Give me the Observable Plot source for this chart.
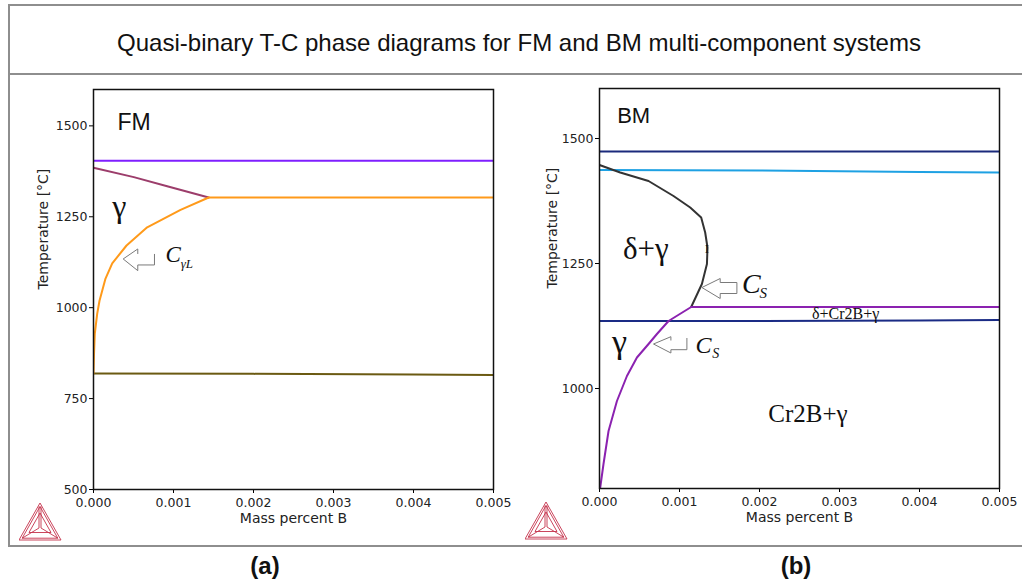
<!DOCTYPE html>
<html>
<head>
<meta charset="utf-8">
<script src="https://cdn.jsdelivr.net/npm/d3@7"></script>
<script src="https://cdn.jsdelivr.net/npm/@observablehq/plot@0.6"></script>
<style>
  html, body { margin: 0; padding: 0; background: #fff; }
  #page { position: relative; width: 1022px; height: 583px; overflow: hidden; background: #fff; font-family: "Liberation Sans", Arial, sans-serif; }
  .hline { position: absolute; height: 2px; background: #8e8e8e; }
  .vline { position: absolute; width: 2px; background: #8e8e8e; }
  .panel { position: absolute; top: 0; width: 511px; }
  .tag { position: absolute; font-family: "Liberation Sans", Arial, sans-serif; font-weight: bold; font-size: 24px; color: #111; transform: translate(-50%, -50%); }
  .logo { position: absolute; }
</style>
</head>
<body>
<div id="page">
  <div class="hline" style="left:9px; top:4px; width:1013px;"></div>
  <div class="hline" style="left:9px; top:73px; width:1013px;"></div>
  <div class="hline" style="left:9px; top:545px; width:1013px;"></div>
  <div class="vline" style="left:8px; top:4px; height:543px;"></div>
  <svg style="position:absolute; left:0; top:0;" width="1022" height="80">
    <text x="519" y="51" text-anchor="middle" font-family="Liberation Sans, Arial, sans-serif" font-size="24" fill="#111" textLength="804" lengthAdjust="spacingAndGlyphs">Quasi-binary T-C phase diagrams for FM and BM multi-component systems</text>
  </svg>
  <div id="left" class="panel" style="left:0px;"></div>
  <div id="right" class="panel" style="left:511px;"></div>
  <div class="tag" style="left:265px; top:566px;">(a)</div>
  <div class="tag" style="left:796px; top:566px;">(b)</div>
</div>
<script>
// ---------------- data ----------------
const xTicks = [0, 0.001, 0.002, 0.003, 0.004, 0.005];
const fmYTicks = [500, 750, 1000, 1250, 1500];
const bmYTicks = [1000, 1250, 1500];

// FM panel (mass percent B, temperature °C)
const fmLiquidus = [[0, 1404], [0.005, 1404]];
const fmDeltaGamma = [[0, 1385], [0.000504, 1359], [0.000921, 1334], [0.00144, 1303]];
const fmGammaL = [[0, 819], [0.000006, 870], [0.000016, 928], [0.000046, 983], [0.000075, 1019], [0.00015, 1080], [0.000234, 1122], [0.000413, 1171], [0.000671, 1221], [0.001088, 1269], [0.00144, 1303]];
const fmSolidus = [[0.00144, 1303], [0.005, 1303]];
const fmLower = [[0, 819], [0.002, 818], [0.004, 816], [0.005, 815]];

// BM panel
const bmTop = [[0, 1474], [0.005, 1474]];
const bmBlue = [[0, 1437], [0.002, 1436], [0.004, 1433], [0.005, 1432]];
const bmDelta = [[0, 1447], [0.000259, 1432], [0.000613, 1415], [0.000925, 1385], [0.001134, 1362], [0.001271, 1342], [0.001321, 1312], [0.00135, 1282], [0.001343, 1249], [0.00128, 1209], [0.001146, 1163]];
const bmCr2B = [[0.000009, 802], [0.00005, 849], [0.000113, 915], [0.000218, 975], [0.000343, 1025], [0.000468, 1062], [0.000613, 1089], [0.000718, 1109], [0.000863, 1135], [0.001146, 1163], [0.005, 1163]];
const bmLower = [[0, 1135], [0.002, 1135], [0.004, 1136], [0.005, 1137]];

// labels [mass, temperature, text]
const fmTitle = [[0.0003, 1488, "FM"]];
const fmGamma = [[0.000234, 1249, "γ"]];
const fmC = [[0.0009, 1125, "C"]];
const fmCsub = [[0.00109, 1108, "γL"]];
const fmArrow = [[0.000371, 1134]];

const bmTitle = [[0.000221, 1532, "BM"]];
const bmDG = [[0.000293, 1259, "δ+γ"]];
const bmTick = [[0.001343, 1272, "I"]];
const bmC1 = [[0.00178, 1192, "C"]];
const bmC1sub = [[0.002, 1181, "S"]];
const bmArrow1 = [[0.00128, 1202]];
const bmThree = [[0.002655, 1139, "δ+Cr2B+γ"]];
const bmGamma = [[0.000155, 1071, "γ"]];
const bmC2 = [[0.0012, 1072, "C"]];
const bmC2sub = [[0.00141, 1061, "S"]];
const bmArrow2 = [[0.000675, 1089]];
const bmTwo = [[0.00211, 933, "Cr2B+γ"]];

// ---------------- helpers ----------------
const serif = "Liberation Serif, Times New Roman, serif";
const sans = "DejaVu Sans";
const grey = "#7a7a7a";

function shape(segments) {
  return {
    draw(ctx) {
      for (const seg of segments) {
        ctx.moveTo(seg[0][0], seg[0][1]);
        for (let i = 1; i < seg.length; i++) ctx.lineTo(seg[i][0], seg[i][1]);
      }
    }
  };
}
// outline arrow glyphs (pixel offsets relative to the arrow tip)
const arrowFM = shape([[[14.6, -10], [0, 0], [14.6, 11.7]], [[14.6, -10], [14.6, -5]], [[14.6, 11.7], [14.6, 6], [31.3, 6], [31.3, -5]]]);
const arrowBox = shape([[[18.3, -9], [0, 0], [18.3, 11]], [[18.3, -9], [18.3, -5], [35, -5], [35, 6], [18.3, 6], [18.3, 11]]]);
const arrowL = shape([[[17.4, -7.3], [0, 0], [17.4, 9]], [[17.4, -7.3], [17.4, -3.5]], [[17.4, 9], [17.4, 5.7], [33.4, 5.7], [33.4, -6]]]);

function label(data, opts) {
  return Plot.text(data, {x: d => d[0], y: d => d[1], text: d => d[2], textAnchor: "start", lineAnchor: "bottom", fill: "#111", ...opts});
}
function line(data, color) {
  return Plot.line(data, {stroke: color, strokeWidth: 2, clip: true});
}
function axes(yTicks, dxY) {
  return [
    Plot.axisX({ticks: xTicks, tickFormat: d3.format(".3f"), label: null, tickSize: 4, tickPadding: 5, fontSize: 12.5, fontFamily: sans, fill: "#222"}),
    Plot.axisY({ticks: yTicks, tickFormat: d3.format("d"), label: null, tickSize: 4, tickPadding: 2, fontSize: 12.5, fontFamily: sans, fill: "#222"}),
    Plot.text(["Temperature [°C]"], {frameAnchor: "left", dx: dxY, rotate: -90, fontSize: 14, fontFamily: sans, fill: "#222"}),
    Plot.text(["Mass percent B"], {frameAnchor: "bottom", dy: 33, fontSize: 14, fontFamily: sans, fill: "#222"})
  ];
}
const common = {
  width: 511,
  height: 583,
  style: {background: "transparent", overflow: "visible"},
  x: {domain: [0, 0.005]}
};

// ---------------- FM panel ----------------
const fm = Plot.plot({
  ...common,
  marginLeft: 93, marginRight: 18, marginTop: 89, marginBottom: 94,
  y: {domain: [500, 1600]},
  marks: [
    line(fmLower, "#6b5a12"),
    line(fmLiquidus, "#7f1fff"),
    line(fmDeltaGamma, "#9c3d6b"),
    line(fmGammaL, "#ff9a1a"),
    line(fmSolidus, "#ff9a1a"),
    Plot.dot(fmArrow, {x: d => d[0], y: d => d[1], symbol: arrowFM, fill: "none", stroke: grey, strokeWidth: 1}),
    label(fmTitle, {fontSize: 23, fontFamily: "Liberation Sans, Arial, sans-serif"}),
    label(fmGamma, {fontSize: 32, fontFamily: serif}),
    label(fmC, {fontSize: 23, fontFamily: serif, fontStyle: "italic"}),
    label(fmCsub, {fontSize: 13, fontFamily: serif, fontStyle: "italic"}),
    ...axes(fmYTicks, -49.5),
    Plot.frame({stroke: "#111", strokeWidth: 1.5})
  ]
});
document.getElementById("left").appendChild(fm);

// ---------------- BM panel ----------------
const bm = Plot.plot({
  ...common,
  marginLeft: 88, marginRight: 23, marginTop: 88, marginBottom: 95,
  y: {domain: [800, 1600]},
  marks: [
    line(bmTop, "#1b2a7c"),
    line(bmBlue, "#1ea1e3"),
    line(bmLower, "#1a2b85"),
    line(bmDelta, "#333333"),
    line(bmCr2B, "#8b22b0"),
    Plot.dot(bmArrow1, {x: d => d[0], y: d => d[1], symbol: arrowBox, fill: "none", stroke: grey, strokeWidth: 1}),
    Plot.dot(bmArrow2, {x: d => d[0], y: d => d[1], symbol: arrowL, fill: "none", stroke: grey, strokeWidth: 1}),
    label(bmTitle, {fontSize: 22, fontFamily: "Liberation Sans, Arial, sans-serif"}),
    label(bmDG, {fontSize: 31, fontFamily: serif}),
    label(bmTick, {fontSize: 13, fontFamily: serif, textAnchor: "middle"}),
    label(bmC1, {fontSize: 28, fontFamily: serif, fontStyle: "italic"}),
    label(bmC1sub, {fontSize: 15, fontFamily: serif, fontStyle: "italic"}),
    label(bmThree, {fontSize: 16, fontFamily: serif}),
    label(bmGamma, {fontSize: 34, fontFamily: serif}),
    label(bmC2, {fontSize: 24, fontFamily: serif, fontStyle: "italic"}),
    label(bmC2sub, {fontSize: 14, fontFamily: serif, fontStyle: "italic"}),
    label(bmTwo, {fontSize: 25, fontFamily: serif}),
    ...axes(bmYTicks, -47.3),
    Plot.frame({stroke: "#111", strokeWidth: 1.5})
  ]
});
document.getElementById("right").appendChild(bm);

// ---------------- Thermo-Calc style logo (decoration) ----------------
function logo(left, top) {
  const ns = "http://www.w3.org/2000/svg";
  const s = document.createElementNS(ns, "svg");
  s.setAttribute("width", 44); s.setAttribute("height", 40);
  s.setAttribute("class", "logo");
  s.style.left = left + "px"; s.style.top = top + "px";
  s.innerHTML = `<g fill="none" stroke="#c4314b" stroke-width="0.9" stroke-linejoin="miter">
    <polygon points="21,1 42,38 0,38"/>
    <polygon points="21,4.5 38.8,36.2 3.2,36.2"/>
    <polygon points="21,11 32,30.5 10,30.5"/>
    <line x1="20" y1="4.5" x2="20" y2="26"/>
    <line x1="22" y1="4.5" x2="22" y2="26"/>
    <line x1="20" y1="26" x2="3.2" y2="36.2"/>
    <line x1="22" y1="26" x2="38.8" y2="36.2"/>
  </g>`;
  document.getElementById("page").appendChild(s);
}
logo(19, 502);
logo(525, 501);
</script>
</body>
</html>
